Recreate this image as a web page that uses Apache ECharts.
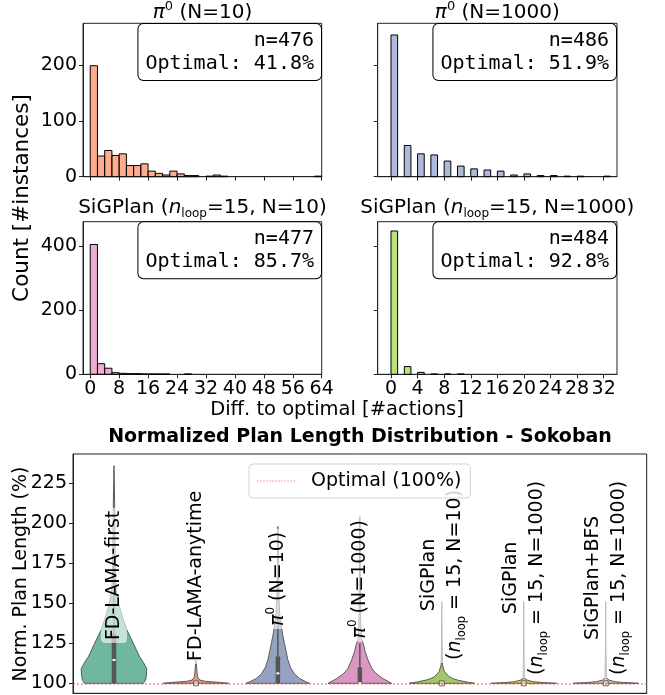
<!DOCTYPE html>
<html lang="en">
<head>
<meta charset="UTF-8">
<title>Sokoban plan length</title>
<script src="https://cdn.jsdelivr.net/npm/echarts@6/dist/echarts.min.js"></script>
<style>html,body{margin:0;padding:0;background:#fff}</style>
</head>
<body>
<div id="main" style="width:665px;height:695px"></div>
<script>
// ---- histogram data (diff. to optimal, #instances) ----
var pi10BinWidth = 2;
var pi10Counts = [199, 37, 47, 38, 41, 20, 20, 23, 10, 6, 3, 10, 5, 2, 2, 0, 1, 3, 1, 0, 0, 0, 0, 0, 0, 0, 0, 0, 0, 0, 0, 1];
var sig10BinWidth = 2;
var sig10Counts = [405, 33, 19, 5, 3, 2, 2, 1, 1, 1, 1, 0, 0, 1];
var pi1000Diffs = [0, 2, 4, 6, 8, 10, 12, 14, 16, 18, 20, 22, 24, 26, 28, 32];
var pi1000Counts = [254, 56, 41, 39, 28, 19, 14, 12, 10, 3, 5, 2, 2, 1, 1, 1];
var sig1000Diffs = [0, 2, 4, 6, 8, 10];
var sig1000Counts = [447, 24, 6, 1, 1, 1];
var panelN = [476, 486, 477, 484];
var panelOptimal = ['41.8%', '51.9%', '85.7%', '92.8%'];
var ticksWide = [0, 8, 16, 24, 32, 40, 48, 56, 64];
var ticksNarrow = [0, 4, 8, 12, 16, 20, 24, 28, 32];
var ticksTop = [0, 100, 200];
var ticksBottom = [0, 200, 400];

// ---- violin data (normalized plan length, %) ----
var methods = ['FD-LAMA-first', 'FD-LAMA-anytime', 'pi0 (N=10)', 'pi0 (N=1000)',
  'SiGPlan (n_loop=15, N=10)', 'SiGPlan (n_loop=15, N=1000)', 'SiGPlan+BFS (n_loop=15, N=1000)'];
var methodLabels = [
  'FD-LAMA-first',
  'FD-LAMA-anytime',
  '{pi|π}{sup|0} (N=10)',
  '{pi|π}{sup|0} (N=1000)',
  'SiGPlan\n({n|n}{sub|loop} = 15, N=10)',
  'SiGPlan\n({n|n}{sub|loop} = 15, N=1000)',
  'SiGPlan+BFS\n({n|n}{sub|loop} = 15, N=1000)'
];
var violinLevels = [
  [100, 102, 105, 109, 113, 117, 125, 133, 142, 150, 158, 171, 192, 213, 236],
  [100, 100.6, 101.2, 102, 103.5, 106, 110, 114.6],
  [100, 101, 103, 106, 110, 115, 120, 125, 130, 135, 142, 155, 175, 198],
  [100, 101, 103, 106, 109, 114.6, 120, 125, 128, 140, 170, 204],
  [100, 100.8, 102, 103, 104.2, 107.3, 111.5, 130, 151],
  [100, 100.5, 101, 102, 103.1, 120, 151],
  [100, 100.5, 101, 102, 103.5, 120, 151]
];
var violinDensity = [
  [0.9, 0.96, 0.99, 1.0, 0.9, 0.77, 0.59, 0.4, 0.25, 0.14, 0.07, 0.04, 0.03, 0.02, 0],
  [1.0, 0.7, 0.3, 0.12, 0.06, 0.035, 0.02, 0],
  [0.97, 0.85, 0.66, 0.5, 0.38, 0.3, 0.25, 0.2, 0.15, 0.11, 0.06, 0.03, 0.015, 0],
  [0.97, 0.88, 0.7, 0.5, 0.37, 0.25, 0.16, 0.1, 0.05, 0.025, 0.012, 0],
  [1.0, 0.76, 0.48, 0.33, 0.22, 0.08, 0.02, 0.008, 0],
  [1.0, 0.55, 0.28, 0.1, 0.02, 0.008, 0],
  [1.0, 0.55, 0.28, 0.1, 0.025, 0.008, 0]
];
var boxQ1 = [100, 100, 100, 100, 100, 100, 100];
var boxMedian = [114.6, 100, 106.2, 100, 100, 100, 100];
var boxQ3 = [131, 100, 116.7, 110, 100, 100, 100];
var optimalLevel = 100;
var violinTicks = [100, 125, 150, 175, 200, 225];

// layout only: where each rotated label starts (value on the y axis)
var labelStart = [127, 114, 135.8, 128, 114.6, 105.2, 105.2];
var violinColors = ['#6fb79f', '#e8957a', '#95a3c3', '#db96c1', '#a2c864', '#e5c849', '#dbc29e'];
var histColors = ['rgba(252,141,98,0.72)', 'rgba(141,160,203,0.72)', 'rgba(231,138,195,0.72)', 'rgba(166,216,84,0.75)'];
var optimalColor = 'rgba(240,70,70,0.6)';

var FONT = 'DejaVu Sans';
var chart = echarts.init(document.getElementById('main'), null, { renderer: 'canvas' });

var labelRich = {
  pi: { fontSize: 19, fontStyle: 'italic', fontFamily: FONT, lineHeight: 26 },
  sup: { fontSize: 12, fontFamily: FONT, verticalAlign: 'top', lineHeight: 8 },
  n: { fontSize: 19, fontStyle: 'italic', fontFamily: FONT, lineHeight: 26 },
  sub: { fontSize: 11.5, fontFamily: FONT, verticalAlign: 'bottom', lineHeight: 15 }
};
var titleRich = {
  pi: { fontSize: 20, fontStyle: 'italic', fontFamily: FONT, lineHeight: 24 },
  sup: { fontSize: 13, fontFamily: FONT, verticalAlign: 'top', lineHeight: 16 },
  n: { fontSize: 20, fontStyle: 'italic', fontFamily: FONT, lineHeight: 24 },
  sub: { fontSize: 12, fontFamily: FONT, verticalAlign: 'bottom', lineHeight: 13 }
};

// measure rotated labels so the lines can be centred like matplotlib does
var mctx = document.createElement('canvas').getContext('2d');
function tokenWidth(txt, rich) {
  mctx.font = (rich.fontStyle === 'italic' ? 'italic ' : '') + rich.fontSize + 'px "' + FONT + '"';
  return mctx.measureText(txt).width;
}
function lineWidth(line, richSet) {
  var w = 0;
  line.replace(/\{(\w+)\|([^}]*)\}|([^{]+)/g, function (m, name, txt, plain) {
    if (plain) w += tokenWidth(plain, { fontSize: 19 });
    else w += tokenWidth(txt, richSet[name]);
    return m;
  });
  return w;
}
var labelWidths = methodLabels.map(function (l) {
  return Math.max.apply(null, l.split('\n').map(function (s) { return lineWidth(s, labelRich); }));
});

function histItem(color) {
  return function (params, api) {
    var c = api.value(2);
    if (!c) return null;
    var a = api.coord([api.value(0), c]);
    var b = api.coord([api.value(1), 0]);
    return {
      type: 'rect',
      shape: { x: a[0], y: a[1], width: b[0] - a[0], height: b[1] - a[1] },
      style: { fill: color, stroke: '#000', lineWidth: 1 }
    };
  };
}

function violinItem(params, api) {
  var i = params.dataIndex;
  var lv = violinLevels[i], dn = violinDensity[i];
  var cx = api.coord([i, optimalLevel])[0];
  var half = api.size([1, 0])[0] * 0.4;
  var right = [], left = [];
  for (var k = 0; k < lv.length; k++) {
    var y = api.coord([i, lv[k]])[1];
    right.push([cx + dn[k] * half, y]);
    left.unshift([cx - dn[k] * half, y]);
  }
  var kids = [{
    type: 'polygon',
    shape: { points: right.concat(left) },
    style: { fill: violinColors[i], stroke: '#5a5a5a', lineWidth: 1 }
  }];
  var q1 = boxQ1[i], q3 = boxQ3[i], top = lv[lv.length - 1];
  var wTop = Math.min(top, q3 + 1.5 * (q3 - q1));
  var yq1 = api.coord([i, q1])[1], yq3 = api.coord([i, q3])[1];
  var ym = api.coord([i, boxMedian[i]])[1];
  if (q3 > q1) {
    kids.push({ type: 'line', shape: { x1: cx, y1: yq1, x2: cx, y2: api.coord([i, wTop])[1] },
      style: { stroke: '#555', lineWidth: 1.5 } });
    kids.push({ type: 'line', shape: { x1: cx, y1: yq1, x2: cx, y2: yq3 },
      style: { stroke: '#555', lineWidth: 4.5 } });
    kids.push({ type: 'rect', shape: { x: cx - 1.5, y: ym - 1, width: 3, height: 2 },
      style: { fill: '#fff' } });
  } else {
    kids.push({ type: 'rect', shape: { x: cx - 2.5, y: ym - 2.5, width: 5, height: 5 },
      style: { fill: 'rgba(255,255,255,0.5)', stroke: '#666', lineWidth: 1 } });
  }
  var ys = api.coord([i, labelStart[i]])[1];
  kids.push({
    type: 'text',
    x: cx,
    y: ys - labelWidths[i] / 2,
    rotation: Math.PI / 2,
    z2: 20,
    style: {
      text: methodLabels[i], rich: labelRich,
      fontSize: 19, fontFamily: FONT, fill: '#000', lineHeight: 26,
      align: 'center', verticalAlign: 'middle',
      backgroundColor: 'rgba(255,255,255,0.6)', borderRadius: 4, padding: [0, 3]
    }
  });
  return { type: 'group', children: kids };
}

var grids = [
  { left: 83, top: 23.3, width: 238.7, height: 153.4 },
  { left: 377.7, top: 23.3, width: 239.3, height: 153.4 },
  { left: 83, top: 221.7, width: 238.7, height: 152.6 },
  { left: 377.7, top: 221.7, width: 239.3, height: 152.6 },
  { left: 73, top: 454, width: 573.7, height: 239.3 }
].map(function (g) {
  g.show = true; g.borderColor = '#222'; g.borderWidth = 1; g.containLabel = false; g.outerBoundsMode = 'none';
  return g;
});

function histX(idx, max, ticks, labels) {
  return {
    gridIndex: idx, type: 'value', min: -2, max: max,
    axisLine: { show: true, onZero: false, lineStyle: { color: '#222' } },
    axisTick: { show: true, length: 4, customValues: ticks, lineStyle: { color: '#222' } },
    axisLabel: { show: labels, customValues: ticks, fontSize: 19, fontFamily: FONT, color: '#000', margin: 5 },
    splitLine: { show: false }
  };
}
function histY(idx, max, ticks, labels) {
  return {
    gridIndex: idx, type: 'value', min: 0, max: max,
    axisLine: { show: true, onZero: false, lineStyle: { color: '#222' } },
    axisTick: { show: true, length: 4, customValues: ticks, lineStyle: { color: '#222' } },
    axisLabel: { show: labels, customValues: ticks, fontSize: 19, fontFamily: FONT, color: '#000', margin: 6 },
    splitLine: { show: false }
  };
}

var xAxes = [
  histX(0, 64, ticksWide, false),
  histX(1, 34, ticksNarrow, false),
  histX(2, 64, ticksWide, true),
  histX(3, 34, ticksNarrow, true),
  {
    gridIndex: 4, type: 'category', data: methods,
    axisLine: { show: true, onZero: false, lineStyle: { color: '#222' } },
    axisTick: { show: false }, axisLabel: { show: false }, splitLine: { show: false }
  }
];
var yAxes = [
  histY(0, 275, ticksTop, true),
  histY(1, 275, ticksTop, false),
  histY(2, 476, ticksBottom, true),
  histY(3, 476, ticksBottom, false),
  {
    gridIndex: 4, type: 'value', min: 93.75, max: 243.3,
    axisLine: { show: true, onZero: false, lineStyle: { color: '#222' } },
    axisTick: { show: true, length: 4, customValues: violinTicks, lineStyle: { color: '#222' } },
    axisLabel: { customValues: violinTicks, fontSize: 19, fontFamily: FONT, color: '#000', margin: 6 },
    splitLine: { show: false }
  }
];

var histData = [
  pi10Counts.map(function (c, i) { return [i * pi10BinWidth, (i + 1) * pi10BinWidth, c]; }),
  pi1000Counts.map(function (c, i) { return [pi1000Diffs[i], pi1000Diffs[i] + 1, c]; }),
  sig10Counts.map(function (c, i) { return [i * sig10BinWidth, (i + 1) * sig10BinWidth, c]; }),
  sig1000Counts.map(function (c, i) { return [sig1000Diffs[i], sig1000Diffs[i] + 1, c]; })
];

var series = histData.map(function (d, i) {
  return {
    type: 'custom', xAxisIndex: i, yAxisIndex: i, data: d,
    encode: { x: [0, 1], y: 2 }, renderItem: histItem(histColors[i]), silent: true
  };
});
series.push({
  type: 'custom', xAxisIndex: 4, yAxisIndex: 4,
  data: methods.map(function (m, i) { return [i, violinLevels[i][violinLevels[i].length - 1]]; }),
  encode: { x: 0, y: 1 }, renderItem: violinItem, silent: true
});
series.push({
  type: 'line', name: 'Optimal (100%)', xAxisIndex: 4, yAxisIndex: 4, data: [],
  symbol: 'none', color: optimalColor, z: 5,
  lineStyle: { color: optimalColor, width: 1.5, type: [2, 2] },
  markLine: {
    silent: true, symbol: 'none', label: { show: false },
    lineStyle: { color: optimalColor, width: 1.5, type: [2, 2] },
    data: [{ yAxis: optimalLevel }]
  }
});

// dotted legend key drawn as a row of short dashes
var dotPath = 'path://';
for (var d = 0; d < 13; d++) dotPath += 'M' + (d * 3) + ',0h1.6v1h-1.6z';

// panel titles, annotation boxes and axis names
var colX = [202.5, 497.3];
var titleTexts = ['{pi|π}{sup|0} (N=10)', '{pi|π}{sup|0} (N=1000)',
  'SiGPlan ({n|n}{sub|loop}=15, N=10)', 'SiGPlan ({n|n}{sub|loop}=15, N=1000)'];
var titleY = [12.4, 12.4, 208.1, 208.1];
var graphics = [];
titleTexts.forEach(function (t, i) {
  graphics.push({
    type: 'text', x: colX[i % 2], y: titleY[i],
    style: { text: t, rich: titleRich, fontSize: 20, fontFamily: FONT, fill: '#000', lineHeight: 24,
      align: 'center', verticalAlign: 'middle' }
  });
  graphics.push({
    type: 'text', x: i % 2 ? 616 : 321, y: i < 2 ? 24 : 222.3, z: 10,
    style: { text: 'n=' + panelN[i] + '\nOptimal: ' + panelOptimal[i], fontSize: 20,
      fontFamily: 'DejaVu Sans Mono', fill: '#000', lineHeight: 23, align: 'right', verticalAlign: 'top',
      backgroundColor: '#fff', borderColor: '#000', borderWidth: 1, borderRadius: 5, padding: [5, 7, 5, 7] }
  });
});
graphics.push({
  type: 'text', x: 22, y: 198, rotation: Math.PI / 2,
  style: { text: 'Count [#instances]', fontSize: 21.5, fontFamily: FONT, fill: '#000', align: 'center', verticalAlign: 'middle' }
});
graphics.push({
  type: 'text', x: 337, y: 410,
  style: { text: 'Diff. to optimal [#actions]', fontSize: 19.5, fontFamily: FONT, fill: '#000', align: 'center', verticalAlign: 'middle' }
});
graphics.push({
  type: 'text', x: 360, y: 437,
  style: { text: 'Normalized Plan Length Distribution - Sokoban', fontSize: 19, fontWeight: 'bold',
    fontFamily: FONT, fill: '#000', align: 'center', verticalAlign: 'middle' }
});
graphics.push({
  type: 'text', x: 21, y: 574, rotation: Math.PI / 2,
  style: { text: 'Norm. Plan Length (%)', fontSize: 19, fontFamily: FONT, fill: '#000', align: 'center', verticalAlign: 'middle' }
});

var option = {
  animation: false,
  backgroundColor: '#fff',
  grid: grids,
  xAxis: xAxes,
  yAxis: yAxes,
  legend: {
    data: [{ name: 'Optimal (100%)', icon: dotPath, itemStyle: { color: optimalColor } }],
    left: 249, top: 464, itemWidth: 38, itemHeight: 1.5,
    padding: [6, 9, 6, 8], borderColor: '#d4d4d4', borderWidth: 1, borderRadius: 4,
    backgroundColor: 'rgba(255,255,255,0.8)', selectedMode: false, z: 10,
    textStyle: { fontSize: 19, fontFamily: FONT, color: '#000', padding: [0, 0, 0, 11], lineHeight: 22 }
  },
  graphic: graphics,
  series: series
};
chart.setOption(option);
</script>
</body>
</html>
